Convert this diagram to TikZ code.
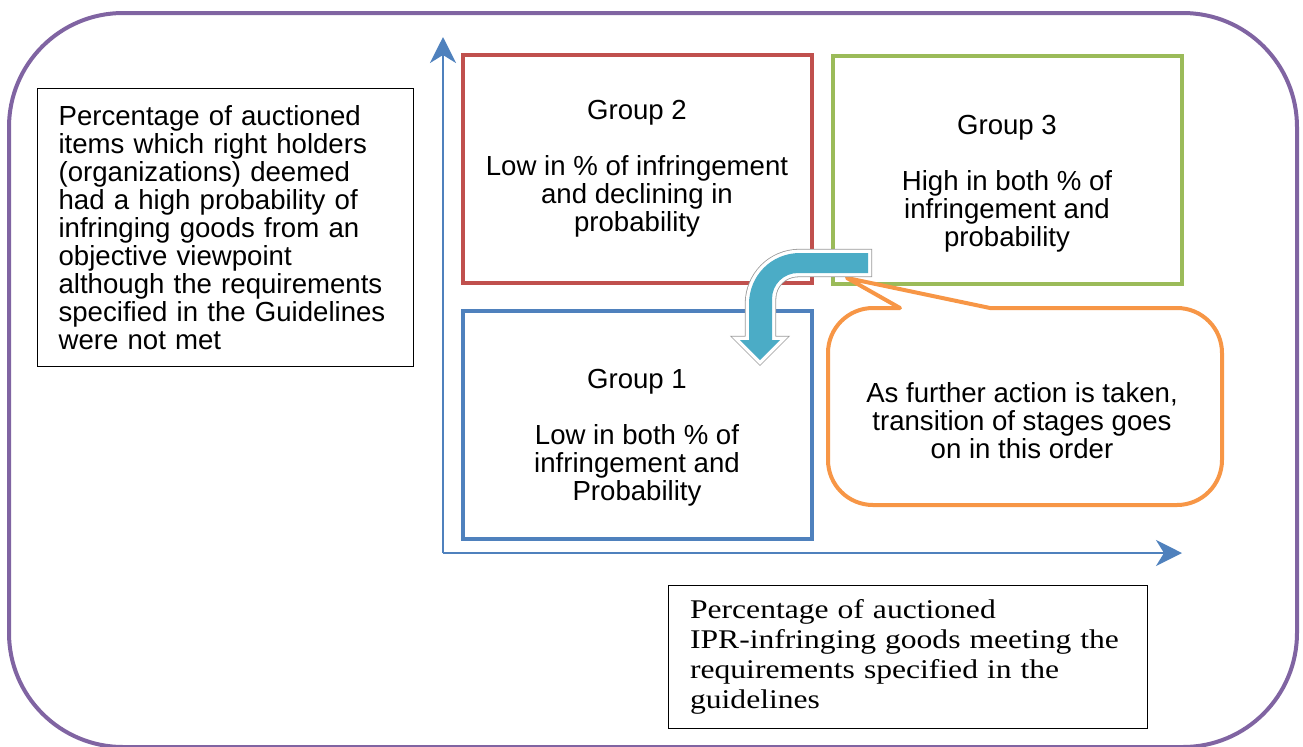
\documentclass[tikz,border=0pt]{standalone}
\usepackage{fontspec}
\setmainfont{Liberation Sans}
\newfontfamily\boxserif[FakeStretch=1.17]{Liberation Serif}
\usepackage{tikz}
\usetikzlibrary{arrows.meta}

\definecolor{framepurple}{HTML}{8064A2}
\definecolor{axisblue}{HTML}{4F81BD}
\definecolor{grpred}{HTML}{C0504D}
\definecolor{grpgreen}{HTML}{9BBB59}
\definecolor{grpblue}{HTML}{4F81BD}
\definecolor{noteorange}{HTML}{F79646}
\definecolor{turncyan}{HTML}{4BACC6}

\begin{document}
\begin{tikzpicture}[x=0.5pt,y=-0.5pt,
	every node/.style={font=\fontsize{13.8}{14}\selectfont},
	axis/.style={axisblue,line width=1pt,-{Stealth[length=13pt,width=13pt,inset=4pt]}},
	grpbox/.style={draw,line width=2pt,minimum width=174.5pt,minimum height=114pt,inner sep=0pt},
	grptxt/.style={align=center},
	textbox/.style={draw=black,line width=0.6pt,anchor=north west,align=left,inner xsep=10.5pt,inner ysep=0pt}]
	\useasboundingbox (0,0) rectangle (1303,746);
	% outer frame
	\draw[framepurple,line width=2pt,rounded corners=57pt] (9,13) rectangle (1297,747);

	\node[textbox,minimum width=188pt,minimum height=139pt,text width=167pt] (ylabel) at (37,88)
		{Percentage of auctioned\\items which right holders\\(organizations) deemed\\had a high probability of\\infringing goods from an\\objective viewpoint\\although the requirements\\specified in the Guidelines\\were not met};
	\node[textbox,minimum width=239.5pt,minimum height=71.5pt,text width=218pt,
		font=\boxserif\fontsize{13.5}{15}\selectfont] (xlabel) at (668,585)
		{Percentage of auctioned\\IPR-infringing goods meeting the\\requirements specified in the\\guidelines};

	% axes
	\coordinate (orig) at (443,553);
	\coordinate (ytip) at (443,37);
	\coordinate (xtip) at (1182,553);
	\draw[axis] (orig) -- (ytip);
	\draw[axis] (orig) -- (xtip);

	% groups
	\node[grpbox,draw=grpred] (g2) at (637.5,169) {};
	\node[grpbox,draw=grpgreen] (g3) at (1007.5,170) {};
	\node[grpbox,draw=grpblue] (g1) at (637.5,424.5) {};
	\node[grptxt] (g2t) at (637,169) {Group 2\\[14pt]Low in \% of infringement\\and declining in\\probability};
	\node[grptxt] (g3t) at (1007,184) {Group 3\\[14pt]High in both \% of\\infringement and\\probability};
	\node[grptxt] (g1t) at (637,438) {Group 1\\[14pt]Low in both \% of\\infringement and\\Probability};

	% callout
	\draw[noteorange,line width=2pt,fill=white,line join=round]
		(847,278) -- (990,308) -- (1177,308) arc[start angle=270,end angle=360,radius=45]
		-- (1222,460) arc[start angle=0,end angle=90,radius=45]
		-- (873,505) arc[start angle=90,end angle=180,radius=45]
		-- (828,353) arc[start angle=180,end angle=270,radius=45]
		-- (900,308) -- cycle;
	\node[align=center] (note) at (1022,421) {As further action is taken,\\transition of stages goes\\on in this order};

	% bent arrow
	\path[fill=turncyan,line join=miter,
		preaction={draw=black!40,line width=4.2pt},
		preaction={draw=white,line width=3.4pt}]
		(868,253) -- (800,253) .. controls (771,253) and (749,276) .. (749,304)
		-- (749,340) -- (740,340) -- (760,360) -- (780,340) -- (772,340)
		-- (772,299) .. controls (772,284) and (784,273) .. (798,273)
		-- (868,273) -- cycle;
\end{tikzpicture}
\end{document}
